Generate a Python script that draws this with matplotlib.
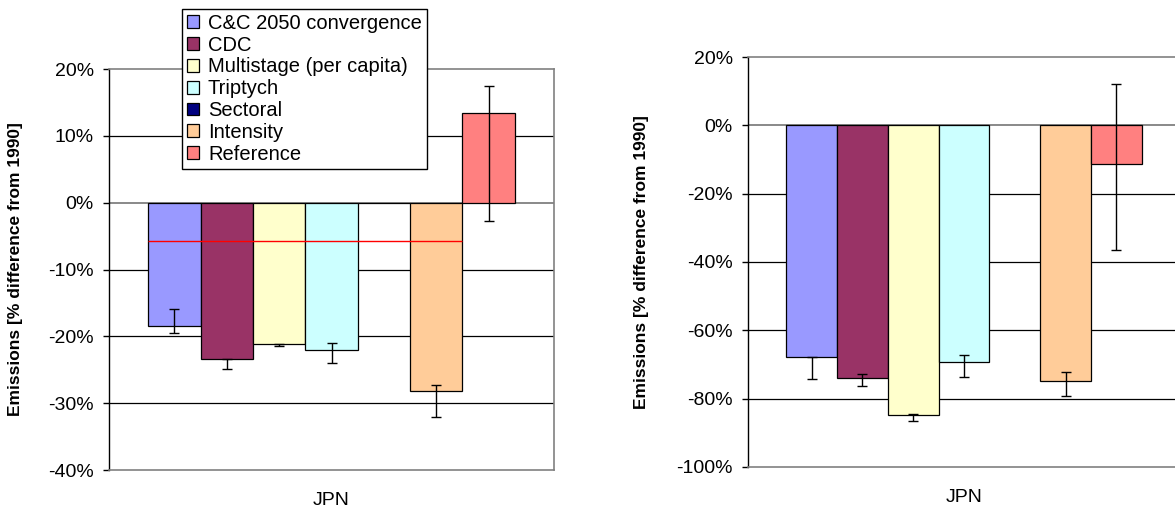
import matplotlib
matplotlib.use("Agg")
import matplotlib.pyplot as plt
import numpy as np
from matplotlib.patches import Patch
from matplotlib.ticker import FuncFormatter

plt.rcParams['font.family'] = ['Liberation Sans', 'DejaVu Sans']

categories = ['JPN']
series = ['C&C 2050 convergence', 'CDC', 'Multistage (per capita)', 'Triptych',
          'Sectoral', 'Intensity', 'Reference']
colors = ['#9999FF', '#993366', '#FFFFCC', '#CCFFFF', '#000080', '#FFCC99', '#FF8080']

# Left panel values (% difference from 1990)
left_values = [-18.45, -23.4, -21.2, -22.05, 0.0, -28.2, 13.4]
left_err_low = [-19.45, -24.9, -21.5, -23.95, np.nan, -32.1, -2.8]
left_err_high = [-15.9, -23.4, -21.2, -21.05, np.nan, -27.3, 17.5]
left_mean_line = -5.8
left_ticks = [20, 10, 0, -10, -20, -30, -40]

# Right panel values
right_values = [-67.9, -73.9, -84.8, -69.2, np.nan, -74.8, -11.4]
right_err_low = [-74.3, -76.3, -86.4, -73.6, np.nan, -79.1, -36.5]
right_err_high = [-67.9, -72.9, -84.4, -67.3, np.nan, -72.1, 12.2]
right_ticks = [20, 0, -20, -40, -60, -80, -100]

ylabel = 'Emissions [% difference from 1990]'

W, H = 1175, 509
fig = plt.figure(figsize=(W / 100, H / 100), dpi=100)

n = len(series)
bw = 1.0 / (n + 1.5)
pos = (np.arange(n) - (n - 1) / 2) * bw


def draw(ax, values, lo, hi, ticks, label_x):
    vals = np.array(values, dtype=float)
    lo = np.array(lo, dtype=float)
    hi = np.array(hi, dtype=float)
    for t in ticks[1:-1]:
        if t != 0:
            ax.axhline(t, color='black', lw=0.9, zorder=0)
    ax.axhline(0, color='#808080', lw=1.3, zorder=0.5)
    for i in range(n):
        if np.isnan(vals[i]):
            continue
        ax.bar(pos[i], vals[i], width=bw, color=colors[i], edgecolor='black',
               linewidth=0.9, zorder=2)
    m = ~np.isnan(lo)
    yerr = np.vstack([np.clip(vals[m] - lo[m], 0, None), np.clip(hi[m] - vals[m], 0, None)])
    ax.errorbar(pos[m], vals[m], yerr=yerr, fmt='none', ecolor='black',
                elinewidth=1.0, capsize=3.5, capthick=1.0, zorder=3)
    ax.set_xlim(-0.5, 0.5)
    ax.set_ylim(min(ticks), max(ticks))
    ax.set_yticks(ticks)
    ax.yaxis.set_major_formatter(FuncFormatter(lambda v, p: f'{v:.0f}%'))
    ax.set_xticks([0])
    ax.set_xticklabels(categories)
    ax.tick_params(axis='x', length=0, pad=16, labelsize=14)
    ax.tick_params(axis='y', length=4, width=1, pad=7, labelsize=14, direction='out')
    for s in ['top', 'right', 'bottom']:
        ax.spines[s].set_color('#808080')
        ax.spines[s].set_linewidth(1.2)
    ax.spines['left'].set_color('black')
    ax.spines['left'].set_linewidth(1.0)
    ax.set_ylabel(ylabel, fontsize=12.5, fontweight='bold')
    ax.yaxis.set_label_coords(label_x, 0.5)


ax1 = fig.add_axes([109 / W, 1 - 470 / H, 445 / W, 401 / H])
draw(ax1, left_values, left_err_low, left_err_high, left_ticks, -0.194)
ax1.hlines(left_mean_line, pos[0] - bw / 2, pos[5] + bw / 2, color='#FF0000', lw=1.0, zorder=4)

ax2 = fig.add_axes([748 / W, 1 - 467 / H, 432 / W, 410 / H])
draw(ax2, right_values, right_err_low, right_err_high, right_ticks, -0.23)

handles = [Patch(facecolor=c, edgecolor='black', linewidth=0.9) for c in colors]
leg = fig.legend(handles, series, loc='upper left',
                 bbox_to_anchor=(182 / W, 1 - 9 / H), bbox_transform=fig.transFigure,
                 fontsize=14.5, frameon=True, fancybox=False, framealpha=1,
                 edgecolor='black', borderpad=0.24, labelspacing=0.14,
                 handlelength=0.6, handleheight=0.6, handletextpad=0.45,
                 borderaxespad=0)
leg.get_frame().set_linewidth(1.0)
leg.set_zorder(10)

fig.savefig('out.png', dpi=100)
